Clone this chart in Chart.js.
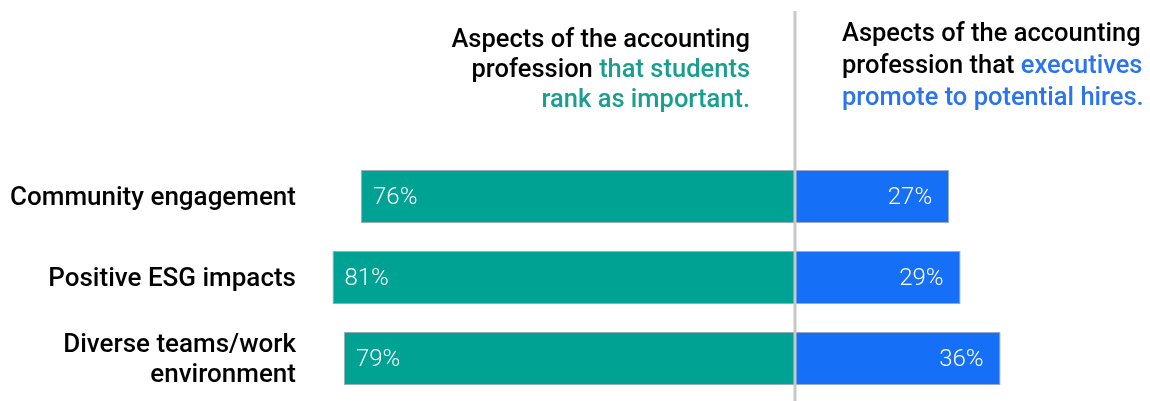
<!DOCTYPE html>
<html>
<head>
<meta charset="utf-8">
<script src="https://cdn.jsdelivr.net/npm/chart.js@4.4.1/dist/chart.umd.min.js"></script>
<style>
  html, body { margin: 0; padding: 0; background: #fff; }
  #wrap { position: relative; width: 1150px; height: 401px; }
</style>
</head>
<body>
<div id="wrap"><canvas id="aspectChart" width="1150" height="401"></canvas></div>
<script>
const CATEGORIES = ["Community engagement", "Positive ESG impacts", ["Diverse teams/work", "environment"]];
const STUDENTS_PCT = [76, 81, 79];
const EXECUTIVES_PCT = [27, 29, 36];

const TEAL = "#00a393";
const BLUE = "#1670f7";
const TEAL_TEXT = "#1a9e8f";
const BLUE_TEXT = "#2b74ef";
const FONT = "Roboto, 'Open Sans', sans-serif";

// header blocks: each line is a list of [text, colour] runs
const HEAD_LEFT = [
  [["Aspects of the accounting", "#000"]],
  [["profession ", "#000"], ["that students", TEAL_TEXT]],
  [["rank as important.", TEAL_TEXT]],
];
const HEAD_RIGHT = [
  [["Aspects of the accounting", "#000"]],
  [["profession that ", "#000"], ["executives", BLUE_TEXT]],
  [["promote to potential hires.", BLUE_TEXT]],
];

function drawRuns(ctx, line, x, y, align) {
  const widths = line.map((r) => ctx.measureText(r[0]).width);
  const total = widths.reduce((a, b) => a + b, 0);
  let cx = align === "right" ? x - total : x;
  line.forEach((r, i) => {
    ctx.fillStyle = r[1];
    ctx.fillText(r[0], cx, y);
    cx += widths[i];
  });
}

const dividerAndHeads = {
  id: "dividerAndHeads",
  afterDatasetsDraw(chart) {
    const ctx = chart.ctx;
    const x0 = chart.scales.x.getPixelForValue(0);
    ctx.save();
    // centre divider
    ctx.strokeStyle = "#c8c8c8";
    ctx.lineWidth = 3;
    ctx.beginPath();
    ctx.moveTo(x0, 11);
    ctx.lineTo(x0, chart.height);
    ctx.stroke();

    // value labels
    ctx.font = "300 24px " + FONT;
    ctx.fillStyle = "#fff";
    ctx.textBaseline = "middle";
    chart.getDatasetMeta(0).data.forEach((bar, i) => {
      ctx.textAlign = "left";
      ctx.fillText(STUDENTS_PCT[i] + "%", bar.x + 12, bar.y + 1);
    });
    chart.getDatasetMeta(1).data.forEach((bar, i) => {
      ctx.textAlign = "right";
      ctx.fillText(EXECUTIVES_PCT[i] + "%", bar.x - 17, bar.y + 1);
    });

    // column headers
    ctx.font = "500 25.5px " + FONT;
    ctx.textAlign = "left";
    ctx.textBaseline = "alphabetic";
    HEAD_LEFT.forEach((line, i) => drawRuns(ctx, line, x0 - 45, 47 + i * 30, "right"));
    HEAD_RIGHT.forEach((line, i) => drawRuns(ctx, line, x0 + 47, 41 + i * 32, "left"));
    ctx.restore();
  },
};

new Chart(document.getElementById("aspectChart"), {
  type: "bar",
  data: {
    labels: CATEGORIES,
    datasets: [
      {
        label: "Students",
        data: STUDENTS_PCT.map((v) => -v),
        backgroundColor: TEAL,
        borderColor: "rgba(130,150,170,0.8)",
        borderWidth: 1,
        borderSkipped: false,
        barPercentage: 0.655,
        categoryPercentage: 1,
      },
      {
        label: "Executives",
        data: EXECUTIVES_PCT,
        backgroundColor: BLUE,
        borderColor: "rgba(130,150,180,0.8)",
        borderWidth: 1,
        borderSkipped: false,
        barPercentage: 0.655,
        categoryPercentage: 1,
      },
    ],
  },
  options: {
    indexAxis: "y",
    responsive: false,
    animation: false,
    layout: { padding: { top: 156, bottom: 2, left: 0, right: 0 } },
    scales: {
      x: { stacked: true, display: false, min: -81.96, max: 62.17 },
      y: {
        stacked: true,
        grid: { display: false, drawTicks: false },
        border: { display: false },
        ticks: {
          color: "#000",
          font: { family: FONT, size: 26, weight: "500", lineHeight: 1.15 },
          padding: 31,
          labelOffset: 2,
        },
        afterFit(axis) {
          axis.width = 327;
          axis.paddingTop = 0;
          axis.paddingBottom = 0;
        },
      },
    },
    plugins: { legend: { display: false }, tooltip: { enabled: false } },
  },
  plugins: [dividerAndHeads],
});
</script>
</body>
</html>
